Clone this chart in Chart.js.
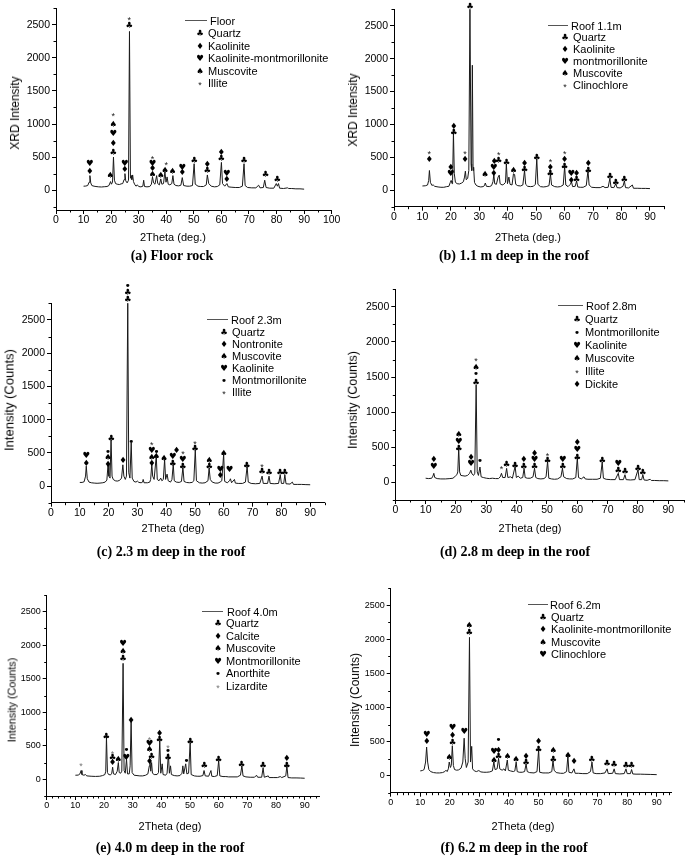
<!DOCTYPE html>
<html><head><meta charset="utf-8">
<script src="https://cdn.jsdelivr.net/npm/chart.js@4.4.1/dist/chart.umd.min.js"></script>
<style>
html,body{margin:0;padding:0;background:#fff;}
#wrap{position:relative;width:685px;height:857px;overflow:hidden;font-family:"Liberation Sans",Arial,sans-serif;color:#000;}
canvas{position:absolute;}
.t{position:absolute;white-space:nowrap;line-height:1;}
.xt{transform:translate(-50%,-50%);font-size:11px;}
.yt{transform:translate(-50%,-50%) rotate(-90deg);}
.cap{transform:translate(-50%,-50%);font-family:"Liberation Serif","Times New Roman",serif;font-weight:bold;font-size:14px;}
.lg{font-size:11px;transform:translateY(-50%);}
.sym{position:absolute;transform:translate(-50%,-50%);font-family:"DejaVu Sans",sans-serif;font-size:8.5px;line-height:1;}
.ln{position:absolute;height:0;border-top:1px solid #555;}
</style></head><body><div id="wrap"></div>
<script>
// ---------- tick labels ----------
const xTicksFloor = [0,10,20,30,40,50,60,70,80,90,100];
const xTicksRoof = [0,10,20,30,40,50,60,70,80,90];
const yTicks = [0,500,1000,1500,2000,2500];

// ---------- (a) Floor ----------
const floorTrace = [[10,60],[10.8,62],[11.5,70],[12,120],[12.3,220],[12.6,110],[13,70],[13.8,60],[14.5,55],[15.5,50],[16.5,48],[17.5,52],[18.5,55],[19.2,70],[19.8,130],[20.1,90],[20.5,120],[20.85,500],[21.2,150],[21.6,100],[22.2,90],[23,85],[23.6,95],[24.2,100],[24.7,160],[25,250],[25.3,140],[25.8,110],[26.3,150],[26.65,2400],[27,180],[27.3,220],[27.5,160],[27.8,230],[28.1,130],[28.5,90],[29,60],[29.5,80],[30,55],[30.8,50],[31.5,60],[31.8,150],[32.1,55],[33,50],[34,55],[34.6,90],[35,200],[35.4,110],[35.9,90],[36.5,220],[36.9,100],[37.5,80],[38,170],[38.4,90],[39,100],[39.5,280],[39.9,120],[40.3,200],[40.7,90],[41.3,80],[42,100],[42.4,220],[42.8,90],[43.5,70],[44.5,65],[45.3,75],[45.8,190],[46.3,70],[47.5,60],[48.5,60],[49.5,70],[50.1,400],[50.5,90],[51.5,60],[52.5,55],[53.5,55],[54.5,80],[54.9,230],[55.4,100],[56.3,60],[57.5,50],[58.5,55],[59.4,80],[60,420],[60.4,100],[61.2,60],[62,100],[62.5,50],[63.5,45],[65,40],[66.5,40],[67.6,60],[68.2,400],[68.6,70],[69.5,40],[71,35],[72.5,35],[73.5,75],[74,35],[75.2,40],[75.7,150],[76.2,40],[77.5,30],[79,30],[79.9,100],[80.3,60],[80.7,100],[81.1,30],[82.5,25],[84,35],[84.4,25],[85.5,25],[87,20],[88.5,20],[90,15]];
const floorMarks = [[12.3,272,'♦'],[12.3,396,'♥'],[19.7,223,'♠'],[20.8,570,'♣'],[20.8,703,'♦'],[20.8,856,'♥'],[20.8,990,'♠'],[20.8,1148,'*'],[25,312,'♦'],[25,396,'♥'],[26.6,2485,'♣'],[26.6,2600,'*'],[35,238,'♠'],[35,327,'♦'],[35,401,'♥'],[35,494,'*'],[38,223,'♠'],[39.6,297,'♠'],[40,405,'*'],[42.3,272,'♠'],[45.8,257,'♦'],[45.8,337,'♥'],[50.2,445,'♣'],[54.9,297,'♣'],[54.9,386,'♦'],[60,470,'♣'],[60,569,'♦'],[62,159,'♦'],[62,248,'♥'],[68.2,440,'♣'],[76,233,'♣'],[80.3,158,'♣']];
const floorNames = ['Quartz','Kaolinite','Kaolinite-montmorillonite','Muscovite','Illite'];
const floorSyms = ['♣','♦','♥','♠','*'];

// ---------- (b) Roof 1.1 m ----------
const roof11Trace = [[10,65],[11,68],[11.8,80],[12.2,150],[12.45,300],[12.8,120],[13.3,75],[13.8,80],[14.3,60],[15.5,50],[16.5,45],[17.5,45],[18.5,55],[19.3,60],[19.8,120],[20.1,150],[20.4,100],[20.6,150],[20.9,880],[21.2,250],[21.6,120],[22.2,100],[23,95],[23.8,110],[24.4,130],[24.8,200],[25.1,290],[25.4,160],[25.9,180],[26.3,300],[26.7,2760],[27.1,400],[27.3,300],[27.55,1900],[27.8,300],[28,350],[28.3,120],[28.8,80],[29.5,60],[30.5,50],[31.3,55],[31.8,70],[32.1,110],[32.5,60],[33.5,55],[34.3,70],[34.8,130],[35.1,240],[35.4,100],[36,90],[36.6,200],[37,230],[37.3,100],[38,80],[38.6,90],[39.2,120],[39.5,400],[39.9,100],[40.4,200],[40.8,90],[41.5,80],[42,250],[42.4,240],[42.8,90],[43.5,70],[44.5,65],[45.3,80],[45.9,300],[46.3,90],[47,60],[48,55],[49,60],[49.7,90],[50.2,480],[50.6,90],[51.5,55],[52.5,50],[53.5,55],[54.5,70],[55,250],[55.4,80],[56.5,55],[57.5,50],[58.5,55],[59.5,80],[60,360],[60.4,80],[61.2,55],[62,90],[62.4,130],[62.8,55],[63.7,60],[64.2,140],[64.6,50],[65.5,45],[66.5,45],[67.6,70],[68.2,300],[68.6,80],[69.5,45],[71,40],[72.5,40],[73.5,60],[74.2,40],[75.3,45],[75.9,180],[76.3,45],[77.3,40],[78,100],[78.4,40],[79.5,35],[80.5,60],[81,140],[81.4,40],[82.5,35],[83.8,80],[84.2,30],[85.5,30],[87,28],[88.5,28],[90,25]];
const roof11Marks = [[12.4,457,'♦'],[12.4,569,'*'],[20,254,'♥'],[20,340,'♦'],[21,880,'♣'],[21,965,'♦'],[25,457,'♦'],[25,569,'*'],[26.7,2790,'♣'],[32,229,'♠'],[35.1,244,'♦'],[35.1,340,'♥'],[35.3,430,'♦'],[36.8,450,'♣'],[36.8,560,'*'],[39.6,420,'♣'],[42,290,'♠'],[45.9,305,'♣'],[45.9,406,'♦'],[50.2,493,'♣'],[55,254,'♣'],[55,345,'♦'],[55,457,'*'],[60,356,'♣'],[60,457,'♦'],[60,569,'*'],[62.3,142,'♦'],[62.3,244,'♥'],[64.2,152,'♣'],[64.2,244,'♦'],[68.3,295,'♣'],[68.3,396,'♦'],[76,203,'♣'],[78,112,'♣'],[81,163,'♣']];
const roof11Names = ['Quartz','Kaolinite','montmorillonite','Muscovite','Clinochlore'];
const roof11Syms = ['♣','♦','♥','♠','*'];

// ---------- (c) Roof 2.3 m ----------
const roof23Trace = [[10,55],[10.8,55],[11.5,65],[12,150],[12.25,300],[12.6,110],[13.2,60],[14,50],[15,45],[16,42],[17,45],[18,50],[18.8,60],[19.4,90],[19.8,320],[20.1,150],[20.5,120],[20.85,700],[21.2,150],[21.6,100],[22.3,80],[23,75],[23.8,85],[24.5,120],[24.95,320],[25.3,150],[25.8,100],[26.2,150],[26.65,2760],[27,200],[27.4,120],[27.85,650],[28.2,120],[28.8,70],[29.5,60],[30,75],[30.5,55],[31.3,50],[31.8,60],[32,100],[32.3,50],[33.5,50],[34.3,60],[34.6,100],[35,330],[35.3,150],[35.8,100],[36.55,450],[36.9,100],[37.5,80],[38.1,120],[38.5,80],[39,100],[39.45,400],[39.8,100],[40.3,180],[40.7,80],[41.5,60],[42,100],[42.45,330],[42.8,80],[43.5,60],[44.5,55],[45.3,70],[45.8,280],[46.2,70],[47,55],[48,50],[49,55],[49.6,80],[50.1,550],[50.5,80],[51.5,50],[52.5,45],[53.5,50],[54.5,80],[54.9,270],[55.3,100],[56,60],[57,45],[58,45],[58.7,60],[59.3,80],[59.95,480],[60.3,70],[61.2,50],[62,80],[62.3,110],[62.7,50],[63.7,100],[64,45],[65,40],[66.5,40],[67.5,60],[68.1,300],[68.5,60],[69.5,40],[71,35],[72.5,40],[73.3,150],[73.7,40],[75.2,40],[75.7,150],[76.1,40],[77.5,35],[79,40],[79.6,170],[80,40],[80.8,40],[81.2,170],[81.6,35],[83,30],[83.8,60],[84.2,25],[85.5,25],[87,25],[88.5,22],[90,20]];
const roof23Marks = [[12.3,335,'♦'],[12.3,450,'♥'],[19.8,325,'♦'],[19.8,425,'♠'],[19.8,510,'•'],[20.9,710,'♣'],[25,375,'♦'],[26.65,2810,'♣'],[26.65,2910,'♣'],[26.65,3010,'•'],[27.9,660,'•'],[35,335,'♦'],[35,425,'♠'],[35,535,'♥'],[35,640,'*'],[36.6,435,'♠'],[36.6,510,'•'],[39.3,410,'♠'],[42.3,335,'♣'],[42.3,440,'♥'],[43.6,535,'♦'],[45.8,290,'♣'],[45.8,400,'♥'],[45.8,510,'*'],[50,560,'♣'],[50,660,'*'],[55,285,'♣'],[55,380,'♠'],[58.8,150,'♦'],[58.8,250,'♥'],[60,485,'♠'],[62,240,'♥'],[68,310,'♣'],[73.3,210,'♣'],[73.3,315,'*'],[75.7,195,'♣'],[79.5,195,'♣'],[81.2,195,'♣']];
const roof23Names = ['Quartz','Nontronite','Muscovite','Kaolinite','Montmorillonite','Illite'];
const roof23Syms = ['♣','♦','♠','♥','•','*'];

// ---------- (d) Roof 2.8 m ----------
const roof28Trace = [[10,60],[11,55],[12,60],[12.4,90],[12.7,130],[13,70],[13.8,55],[15,50],[16.5,50],[18,55],[19,60],[19.8,90],[20.3,110],[20.6,150],[20.9,490],[21.2,150],[21.6,100],[22.3,95],[23,90],[23.8,100],[24.5,130],[24.9,175],[25.3,120],[25.8,100],[26.2,130],[26.65,1390],[27,150],[27.4,100],[27.9,220],[28.3,80],[29,70],[30,60],[31,55],[32,60],[33,55],[34,55],[34.6,80],[35,130],[35.4,70],[36.2,70],[36.7,200],[37.1,70],[38,80],[38.6,60],[39.5,230],[39.9,70],[40.5,90],[41.2,60],[42,70],[42.45,200],[42.8,70],[43.5,60],[44.5,60],[45.4,80],[45.9,200],[46.3,70],[47,55],[48,50],[49,55],[49.7,80],[50.2,300],[50.6,60],[51.5,50],[52.5,45],[53.5,50],[54.6,80],[55.1,200],[55.5,80],[56.5,55],[57.5,50],[58.5,50],[59.5,70],[60,350],[60.4,70],[61.3,50],[62.2,80],[62.6,50],[63.5,45],[65,45],[66.5,45],[67.6,60],[68.2,290],[68.6,60],[69.5,45],[71,40],[72.5,40],[73.5,130],[73.9,40],[75.2,40],[75.7,110],[76.1,40],[77.5,35],[79,40],[80,180],[80.4,40],[81.2,40],[81.6,110],[82,35],[83,30],[84,45],[84.4,28],[85.5,28],[87,25],[88.5,25],[90,22]];
const roof28Marks = [[12.7,223,'♥'],[12.7,318,'♦'],[20.9,484,'♣'],[20.9,579,'♥'],[20.9,683,'♠'],[25,261,'♥'],[25,356,'♦'],[26.6,1423,'♣'],[26.6,1537,'•'],[26.6,1637,'♠'],[26.6,1750,'*'],[27.9,304,'•'],[35,213,'*'],[36.7,247,'♣'],[39.5,242,'♣'],[42.4,223,'♣'],[42.4,327,'♦'],[45.9,223,'♣'],[45.9,318,'♥'],[45.9,413,'♦'],[50.2,308,'♣'],[50.2,403,'*'],[55.2,223,'♣'],[55.2,327,'♥'],[60,351,'♣'],[60,460,'♥'],[60,569,'♦'],[68.2,308,'♣'],[73.5,161,'♣'],[73.5,270,'♥'],[75.7,152,'♣'],[80,199,'♣'],[81.6,142,'♣']];
const roof28Names = ['Quartz','Montmorillonite','Kaolinite','Muscovite','Illite','Dickite'];
const roof28Syms = ['♣','•','♥','♠','*','♦'];

// ---------- (e) Roof 4.0 m ----------
const roof40Trace = [[10,60],[11,62],[11.6,80],[12,130],[12.3,70],[13,60],[13.5,70],[14,50],[15.5,45],[17,42],[18.5,45],[19.5,55],[20.3,70],[20.6,120],[20.85,630],[21.2,100],[21.6,70],[22.3,65],[22.7,90],[23,180],[23.3,80],[24,70],[24.6,120],[25,250],[25.3,100],[25.8,90],[26.2,120],[26.65,1730],[27,130],[27.4,90],[27.85,300],[28.2,80],[28.8,80],[29.1,200],[29.45,860],[29.8,100],[30.5,60],[31.5,55],[32.5,50],[33.5,50],[34.5,60],[35.3,80],[35.8,200],[36,300],[36.3,120],[36.6,250],[36.9,90],[37.5,70],[38.5,70],[39,100],[39.45,580],[39.8,90],[40.3,230],[40.6,70],[41.5,60],[42,90],[42.45,380],[42.8,90],[43.2,200],[43.5,70],[44.5,55],[45.5,50],[46.5,55],[47.2,90],[47.5,200],[47.8,80],[48.5,230],[48.9,80],[49.5,90],[50.05,550],[50.4,70],[51.5,50],[52.5,45],[53.5,45],[54.5,55],[54.9,130],[55.3,50],[56.5,45],[57.3,130],[57.6,45],[58.5,40],[59.5,55],[60,280],[60.4,50],[61.5,40],[62.5,40],[63.5,35],[65,35],[66.5,35],[67.6,60],[68.1,200],[68.5,50],[69.5,35],[71,30],[72.5,30],[73.2,60],[73.6,30],[75,30],[75.5,170],[75.9,30],[77.3,50],[77.6,25],[79,25],[80.5,25],[81.5,40],[82,25],[83.4,50],[83.8,200],[84.2,25],[85.5,20],[87,20],[88.5,18],[90,15]];
const roof40Marks = [[12,220,'*'],[20.8,632,'♣'],[23,244,'♦'],[23,320,'♣'],[23,393,'*'],[25,284,'♠'],[26.6,1803,'♣'],[26.6,1902,'♠'],[26.6,2017,'♥'],[27.8,324,'♥'],[27.8,433,'•'],[29.4,871,'♦'],[35.9,259,'♦'],[35.9,433,'♠'],[35.9,533,'♥'],[35.9,607,'*'],[36.6,334,'♣'],[39.4,583,'♣'],[39.4,682,'♦'],[42.3,324,'♣'],[42.3,423,'•'],[42.3,493,'*'],[48.8,274,'•'],[50.1,558,'♣'],[55,194,'♣'],[60,284,'♣'],[68,219,'♣'],[75.5,194,'♣'],[83.8,199,'♣'],[83.8,309,'♦']];
const roof40Names = ['Quartz','Calcite','Muscovite','Montmorillonite','Anorthite','Lizardite'];
const roof40Syms = ['♣','♦','♠','♥','•','*'];

// ---------- (f) Roof 6.2 m ----------
const roof62Trace = [[10,70],[10.7,75],[11.3,90],[11.8,200],[12.15,420],[12.5,200],[12.9,90],[13.5,60],[14.5,45],[15.5,40],[16.5,40],[17.5,45],[18.3,60],[18.7,80],[19.1,60],[19.5,100],[19.8,200],[20.2,120],[20.5,150],[20.85,440],[21.2,150],[21.6,90],[22.3,80],[23,85],[23.8,110],[24.4,200],[24.85,550],[25.2,250],[25.6,120],[26.2,200],[26.65,2030],[27,200],[27.4,430],[27.7,100],[28.3,70],[29,60],[29.8,75],[30.5,55],[31.5,50],[32.5,50],[33.5,55],[34.4,70],[34.9,200],[35.3,90],[36,100],[36.5,250],[36.9,100],[37.7,80],[38.3,100],[38.8,70],[39.45,230],[39.8,80],[40.5,70],[41.5,60],[42,70],[42.45,200],[42.8,60],[43.5,50],[44.5,50],[45.3,60],[45.8,170],[46.2,60],[47,45],[48.5,40],[49.5,60],[50.05,380],[50.4,50],[51.5,40],[52.5,40],[53.5,40],[54.5,60],[54.9,220],[55.3,80],[56,45],[57.5,35],[58.5,35],[59.5,60],[59.95,290],[60.3,50],[61.3,40],[62,100],[62.4,35],[63.5,35],[65,30],[66.5,30],[67.6,60],[68.1,200],[68.5,40],[69.5,30],[71,30],[72.5,40],[73.2,100],[73.6,30],[75.1,35],[75.6,100],[76,30],[77.5,25],[79,30],[79.6,100],[80,30],[81.1,30],[81.5,90],[81.9,25],[83,22],[84.5,22],[86,20],[88,18],[90,15]];
const roof62Marks = [[12.2,498,'♦'],[12.2,605,'♥'],[19.8,259,'♠'],[20.9,483,'♣'],[20.9,591,'♦'],[20.9,703,'♥'],[24.9,640,'♥'],[26.6,2095,'♣'],[26.6,2202,'♠'],[35,225,'♠'],[35,356,'♥'],[36.5,273,'♣'],[36.5,371,'♦'],[36.5,518,'•'],[39.5,273,'♠'],[42.4,240,'♠'],[45.8,190,'♣'],[45.8,278,'♦'],[50,386,'♣'],[50,498,'♦'],[55,240,'♣'],[55,371,'♠'],[60,298,'♠'],[62,200,'♦'],[68,240,'♣'],[73.2,176,'♣'],[75.6,166,'♣'],[79.6,142,'♣'],[81.5,151,'♣']];
const roof62Names = ['Quartz','Kaolinite-montmorillonite','Muscovite','Clinochlore'];
const roof62Syms = ['♣','♦','♠','♥'];

// ---------- layout (positions only) ----------
const panels = [
 {trace:floorTrace, marks:floorMarks, names:floorNames, syms:floorSyms, series:'Floor', xTicks:xTicksFloor,
  canvas:[0,0,342,232], plot:[56,4.6,331.7,210], xmax:100, ymin:-300, ymax:2750, xMinor:5, tick:10.5,
  xTitle:'2Theta (deg.)', xT:[173,237], yTitle:'XRD Intensity', yT:[15,113], ySize:12,
  cap:'(a) Floor rock', capP:[172,256], lg:{l:[185,207,20], tx:210, sx:200, ex:208, y0:33, st:12.5}},
 {trace:roof11Trace, marks:roof11Marks, names:roof11Names, syms:roof11Syms, series:'Roof 1.1m', xTicks:xTicksRoof,
  canvas:[342,0,343,232], plot:[394,9.3,664.2,206.7], xmax:95, ymin:-250, ymax:2750, xMinor:5, tick:10.5,
  xTitle:'2Theta (deg.)', xT:[528,237], yTitle:'XRD Intensity', yT:[353,110], ySize:12,
  cap:'(b) 1.1 m deep in the roof', capP:[514,256], lg:{l:[548,568,25], tx:571, sx:565, ex:573, y0:37, st:12}},
 {trace:roof23Trace, marks:roof23Marks, names:roof23Names, syms:roof23Syms, series:'Roof 2.3m', xTicks:xTicksRoof,
  canvas:[0,270,342,255], plot:[51,303.3,324.6,502.7], xmax:95, ymin:-250, ymax:2750, xMinor:5, tick:10.5,
  xTitle:'2Theta (deg)', xT:[173,528], yTitle:'Intensity (Counts)', yT:[9,400], ySize:13,
  cap:'(c) 2.3 m deep in the roof', capP:[171,552], lg:{l:[207,228,319], tx:231, sx:224, ex:232, y0:332, st:12}},
 {trace:roof28Trace, marks:roof28Marks, names:roof28Names, syms:roof28Syms, series:'Roof 2.8m', xTicks:xTicksRoof,
  canvas:[342,270,343,255], plot:[395.3,289.3,683.5,500], xmax:95, ymin:-250, ymax:2750, xMinor:5, tick:10.5,
  xTitle:'2Theta (deg)', xT:[530,528], yTitle:'Intensity (Counts)', yT:[353,400], ySize:12.5,
  cap:'(d) 2.8 m deep in the roof', capP:[515,552], lg:{l:[558,583,305], tx:586, sx:577, ex:585, y0:319, st:13}},
 {trace:roof40Trace, marks:roof40Marks, names:roof40Names, syms:roof40Syms, series:'Roof 4.0m', xTicks:xTicksRoof,
  canvas:[0,575,342,245], plot:[46.7,595,319,796], xmax:95, ymin:-250, ymax:2750, xMinor:2, tick:9,
  xTitle:'2Theta (deg)', xT:[170,826], yTitle:'Intensity (Counts)', yT:[12,700], ySize:10.8,
  cap:'(e) 4.0 m deep in the roof', capP:[170,848], lg:{l:[202,223,611], tx:227, sx:218, ex:226, y0:623, st:12.6}},
 {trace:roof62Trace, marks:roof62Marks, names:roof62Names, syms:roof62Syms, series:'Roof 6.2m', xTicks:xTicksRoof,
  canvas:[342,575,343,245], plot:[390.7,588.3,671.5,792.7], xmax:95, ymin:-250, ymax:2750, xMinor:2, tick:9,
  xTitle:'2Theta (deg)', xT:[523,826], yTitle:'Intensity (Counts)', yT:[355,700], ySize:12,
  cap:'(f) 6.2 m deep in the roof', capP:[514,848], lg:{l:[528,548,604], tx:550, sx:543, ex:551, y0:617, st:12.4}}
];

const wrap = document.getElementById('wrap');
function addText(cls, txt, x, y, extra) {
  const d = document.createElement('div');
  d.className = 't ' + cls; d.textContent = txt;
  d.style.left = x + 'px'; d.style.top = y + 'px';
  if (extra) Object.assign(d.style, extra);
  wrap.appendChild(d); return d;
}
function symFont(s) {
  if (s === '•') return '11px "DejaVu Sans", sans-serif';
  return '8.5px "DejaVu Sans", sans-serif';
}

panels.forEach((p, i) => {
  const [cl, ct, cw, ch] = p.canvas;
  const [pl, pt, pr, pb] = p.plot;
  const cv = document.createElement('canvas');
  cv.width = cw; cv.height = ch;
  cv.style.left = cl + 'px'; cv.style.top = ct + 'px';
  cv.style.width = cw + 'px'; cv.style.height = ch + 'px';
  wrap.appendChild(cv);
  const xAxisH = 20;
  const tickFont = {family:'"Liberation Sans", Arial, sans-serif', size:p.tick};
  const isLiz = p.series === 'Roof 4.0m';
  const markPlugin = {
    id:'xrdMarks' + i,
    afterDraw(chart) {
      const ctx = chart.ctx, xs = chart.scales.x, ys = chart.scales.y, a = chart.chartArea;
      ctx.save();
      ctx.strokeStyle = '#000'; ctx.lineWidth = 1; ctx.beginPath();
      for (let v = xs.min; v <= xs.max + 1e-6; v += p.xMinor) {
        if (Math.abs(v % 10) < 1e-6) continue;
        const px = Math.round(xs.getPixelForValue(v)) + 0.5;
        ctx.moveTo(px, a.bottom); ctx.lineTo(px, a.bottom + 2.5);
      }
      for (let v = Math.ceil(ys.min / 250) * 250; v <= ys.max; v += 250) {
        if (v % 500 === 0) continue;
        const py = Math.round(ys.getPixelForValue(v)) + 0.5;
        ctx.moveTo(a.left, py); ctx.lineTo(a.left - 2.5, py);
      }
      ctx.stroke();
      ctx.textAlign = 'center'; ctx.textBaseline = 'middle';
      p.marks.forEach(([x, y, s]) => {
        const px = xs.getPixelForValue(x), py = ys.getPixelForValue(y);
        if (s === '*') {
          ctx.font = '9px "Liberation Sans", Arial, sans-serif';
          ctx.fillStyle = isLiz ? '#777' : '#222';
          ctx.fillText('*', px, py + 2);
        } else {
          ctx.font = symFont(s);
          ctx.fillStyle = '#000';
          ctx.fillText(s, px, py);
        }
      });
      ctx.restore();
    }
  };
  new Chart(cv, {
    type:'line',
    data:{datasets:[{label:p.series, data:p.trace.map(([x, y]) => ({x, y})),
      borderColor:'#1a1a1a', borderWidth:1, pointRadius:0, tension:0, fill:false}]},
    options:{
      responsive:false, animation:false, devicePixelRatio:1,
      layout:{padding:{left:0, top:pt - ct, right:cl + cw - pr, bottom:ct + ch - pb - xAxisH}},
      plugins:{legend:{display:false}, tooltip:{enabled:false}},
      scales:{
        x:{type:'linear', min:0, max:p.xmax,
          afterBuildTicks:s => { s.ticks = p.xTicks.map(v => ({value:v})); },
          afterFit:s => { s.height = xAxisH; },
          ticks:{autoSkip:false, maxRotation:0, minRotation:0, color:'#000', font:tickFont, padding:0,
            callback:v => String(v)},
          grid:{drawOnChartArea:false, drawTicks:true, tickLength:4, color:'#000'},
          border:{display:true, color:'#000', width:1}},
        y:{type:'linear', min:p.ymin, max:p.ymax,
          afterBuildTicks:s => { s.ticks = yTicks.map(v => ({value:v})); },
          afterFit:s => { s.width = pl - cl; },
          ticks:{autoSkip:false, color:'#000', font:tickFont, padding:2, callback:v => String(v)},
          grid:{drawOnChartArea:false, drawTicks:true, tickLength:4, color:'#000'},
          border:{display:true, color:'#000', width:1}}
      }
    },
    plugins:[markPlugin]
  });
  addText('xt', p.xTitle, p.xT[0], p.xT[1]);
  addText('yt', p.yTitle, p.yT[0], p.yT[1], {fontSize:p.ySize + 'px'});
  addText('cap', p.cap, p.capP[0], p.capP[1]);
  const lg = p.lg;
  const ln = document.createElement('div');
  ln.className = 'ln';
  ln.style.left = lg.l[0] + 'px'; ln.style.top = lg.l[2] + 'px'; ln.style.width = (lg.l[1] - lg.l[0]) + 'px';
  wrap.appendChild(ln);
  addText('lg', p.series, lg.tx, lg.l[2] + 0.5);
  p.names.forEach((n, k) => {
    const y = lg.y0 + k * lg.st;
    const s = document.createElement('div');
    s.className = 'sym'; s.textContent = p.syms[k];
    s.style.left = lg.sx + 'px'; s.style.top = (p.syms[k] === '*' ? y + 2 : y) + 'px';
    if (p.syms[k] === '*') { s.style.fontFamily = '"Liberation Sans", Arial'; s.style.fontSize = '9px'; s.style.color = isLiz ? '#777' : '#222'; }
    if (p.syms[k] === '•') { s.style.fontSize = '11px'; }
    wrap.appendChild(s);
    addText('lg', n, lg.ex, y);
  });
});
</script>
</body></html>
